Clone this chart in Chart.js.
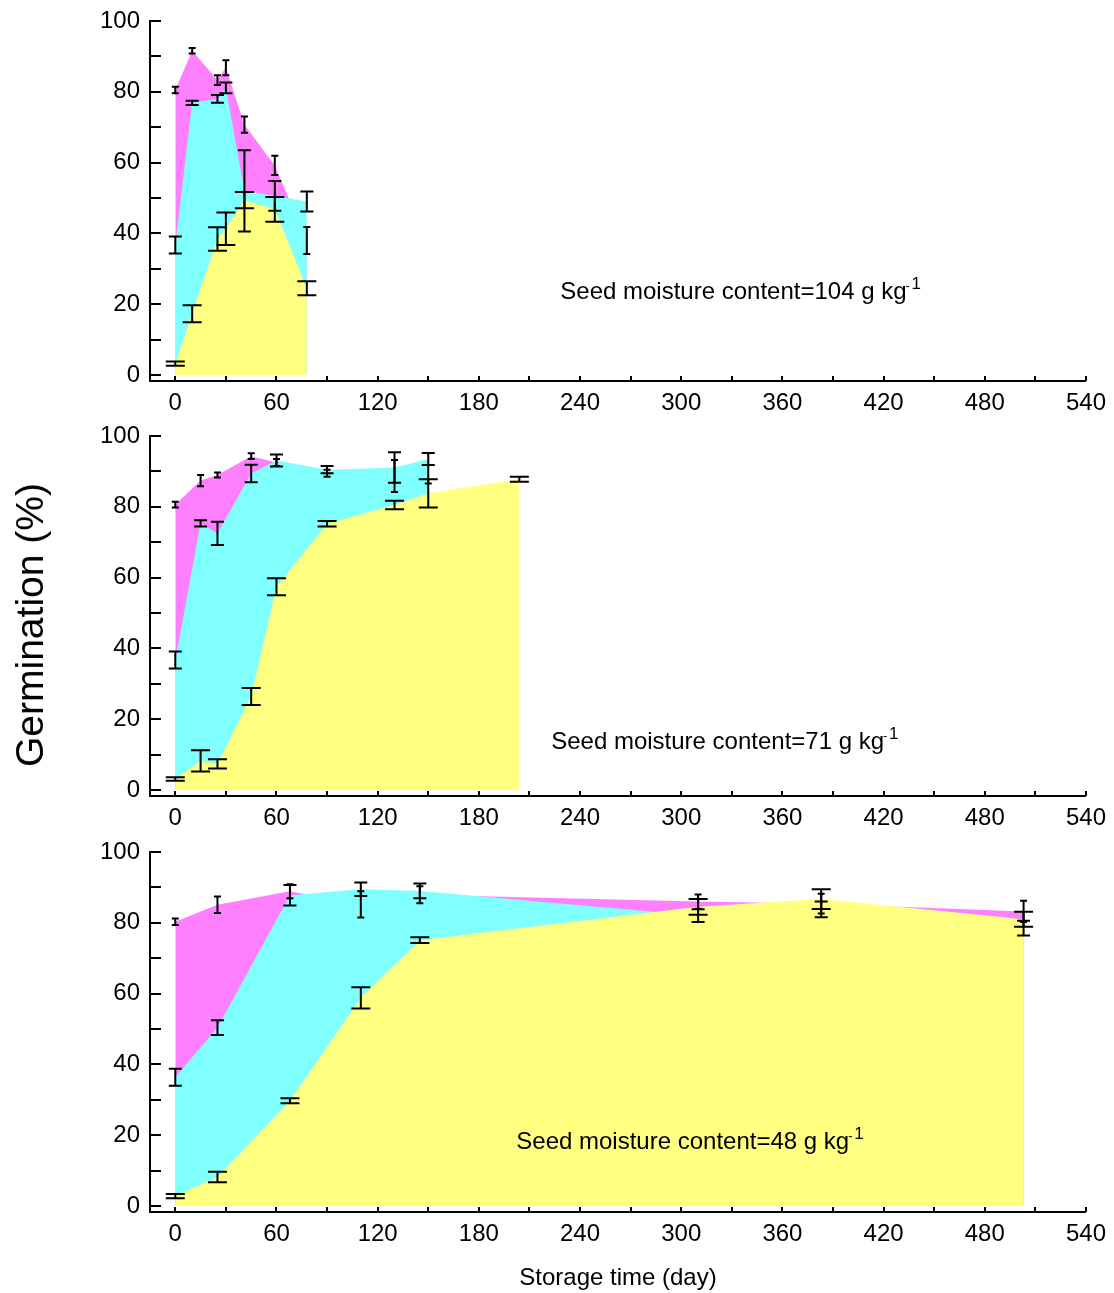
<!DOCTYPE html>
<html lang="en">
<head>
<meta charset="UTF-8">
<title>Germination vs storage time</title>
<script src="https://cdn.jsdelivr.net/npm/chart.js"></script>
<style>
    body {
        margin: 0;
        background: #fff;
        font-family: "Liberation Sans", Arial, sans-serif;
    }
    .wrap {
        position: relative;
        width: 1114px;
        height: 1293px;
    }
    canvas {
        position: absolute;
        left: 0;
    }
    #yTitle {
        position: absolute;
        left: 30px;
        top: 625px;
        transform: translate(-50%, -50%) rotate(-90deg);
        font-size: 39px;
        white-space: nowrap;
        color: #000;
    }
</style>
</head>
<body>
<div class="wrap">
    <canvas id="c104" width="1114" height="415" style="top:0"></canvas>
    <canvas id="c71" width="1114" height="415" style="top:415px"></canvas>
    <canvas id="c48" width="1114" height="462" style="top:831px"></canvas>
    <div id="yTitle">Germination (%)</div>
</div>
<script>
// axis ticks
const xTicks = [0, 60, 120, 180, 240, 300, 360, 420, 480, 540];
const yTicks = [0, 20, 40, 60, 80, 100];

// 104 g/kg
const days104 = [0, 10, 25, 30, 41, 59, 78];
const pink104 = [80.5, 91.6, 83.3, 86.8, 70.7, 59.2, 38.0];
const pinkErr104 = [0.9, 0.8, 1.4, 2.1, 2.3, 2.7, 3.8];
const cyan104 = [36.7, 76.9, 78.0, 81.1, 52.0, 50.6, 49.0];
const cyanErr104 = [2.4, 0.6, 1.1, 1.5, 11.5, 4.2, 2.8];
const yellow104 = [3.2, 17.3, 38.4, 41.3, 49.4, 46.8, 24.5];
const yellowErr104 = [0.6, 2.4, 3.3, 4.6, 2.3, 3.5, 2.0];

// 71 g/kg
const days71 = [0, 15, 25, 45, 60, 90, 130, 150];
const yellowDays71 = [0, 15, 25, 45, 60, 90, 130, 150, 204];
const pink71 = [80.6, 87.4, 89.0, 94.3, 92.5, 89.5, 88.7, 89.2];
const pinkErr71 = [0.8, 1.6, 0.7, 0.8, 1.0, 1.0, 4.5, 2.6];
const cyan71 = [36.7, 75.3, 72.5, 89.4, 93.1, 90.5, 91.1, 93.5];
const cyanErr71 = [2.4, 0.9, 3.3, 2.5, 1.7, 1.0, 4.3, 1.7];
const yellow71 = [3.1, 8.2, 7.4, 26.4, 57.4, 75.2, 80.5, 83.8, 87.8];
const yellowErr71 = [0.5, 3.0, 1.3, 2.4, 2.4, 0.8, 1.2, 4.0, 0.7];

// 48 g/kg
const days48 = [0, 25, 68, 110, 145, 310, 383, 503];
const pink48 = [80.3, 85.1, 88.9, 85.2, 87.9, 86.0, 85.4, 83.2];
const pinkErr48 = [0.9, 2.3, 2.0, 3.7, 2.4, 2.0, 2.8, 3.0];
const cyan48 = [36.4, 50.4, 87.8, 89.5, 89.0, 82.0, 83.8, 78.5];
const cyanErr48 = [2.4, 2.1, 2.9, 1.9, 2.1, 1.8, 2.2, 2.1];
const yellow48 = [2.8, 8.2, 29.7, 58.8, 75.1, 84.5, 86.7, 81.0];
const yellowErr48 = [0.6, 1.5, 0.7, 3.0, 0.8, 2.2, 2.8, 2.1];

const FONT = '"Liberation Sans", Arial, sans-serif';

function pts(days, vals) {
    return vals.map((v, i) => ({ x: days[i], y: v }));
}

function series(days, vals, errs, color, cap) {
    return {
        data: pts(days, vals),
        errs: errs,
        cap: cap,
        backgroundColor: color,
        borderColor: 'rgba(0,0,0,0)',
        borderWidth: 0,
        pointRadius: 0,
        tension: 0,
        fill: 'origin'
    };
}

// error bars, drawn through the y scale
const errorBars = {
    id: 'errorBars',
    afterDatasetsDraw(chart) {
        const ctx = chart.ctx;
        const yScale = chart.scales.y;
        ctx.save();
        ctx.strokeStyle = '#000';
        ctx.lineWidth = 2;
        chart.data.datasets.forEach((ds, di) => {
            const meta = chart.getDatasetMeta(di);
            meta.data.forEach((pt, i) => {
                const v = ds.data[i].y, e = ds.errs[i];
                const x = pt.x;
                const y1 = yScale.getPixelForValue(v + e);
                const y2 = yScale.getPixelForValue(v - e);
                ctx.beginPath();
                ctx.moveTo(x, y1); ctx.lineTo(x, y2);
                ctx.moveTo(x - ds.cap, y1); ctx.lineTo(x + ds.cap, y1);
                ctx.moveTo(x - ds.cap, y2); ctx.lineTo(x + ds.cap, y2);
                ctx.stroke();
            });
        });
        ctx.restore();
    }
};

// inward tick marks (minor every 10 % and 30 days)
const innerTicks = {
    id: 'innerTicks',
    afterDraw(chart) {
        const { ctx, chartArea, scales: { x, y } } = chart;
        ctx.save();
        ctx.strokeStyle = '#000';
        ctx.lineWidth = 2;
        ctx.beginPath();
        for (let v = 0; v <= 100; v += 10) {
            const py = Math.round(y.getPixelForValue(v));
            ctx.moveTo(chartArea.left, py);
            ctx.lineTo(chartArea.left + 11, py);
        }
        for (let d = 0; d <= 540; d += 30) {
            const px = Math.round(x.getPixelForValue(d));
            ctx.moveTo(px, chartArea.bottom);
            ctx.lineTo(px, chartArea.bottom - 5);
        }
        ctx.stroke();
        ctx.restore();
    }
};

const note = {
    id: 'note',
    afterDatasetsDraw(chart, args, opts) {
        if (!opts.text) return;
        const { ctx, scales: { x, y } } = chart;
        const px = x.getPixelForValue(opts.x);
        const py = y.getPixelForValue(opts.y);
        ctx.save();
        ctx.fillStyle = '#000';
        ctx.textAlign = 'left';
        ctx.textBaseline = 'alphabetic';
        ctx.font = '24px ' + FONT;
        ctx.fillText(opts.text, px, py);
        const w = ctx.measureText(opts.text).width;
        ctx.font = '13px ' + FONT;
        ctx.fillText('-', px + w - 1, py - 9);
        ctx.font = '17px ' + FONT;
        ctx.fillText('1', px + w + 5, py - 10);
        ctx.restore();
    }
};

function makePanel(id, datasets, noteOpts, bottomTitle) {
    const canvas = document.getElementById(id);
    const h = canvas.height;
    return new Chart(canvas, {
        type: 'line',
        data: { datasets: datasets },
        plugins: [errorBars, innerTicks, note],
        options: {
            responsive: false,
            animation: false,
            devicePixelRatio: 1,
            layout: { padding: { left: 0, right: 28, top: 21, bottom: 0 } },
            plugins: {
                legend: { display: false },
                tooltip: { enabled: false },
                note: noteOpts
            },
            scales: {
                x: {
                    type: 'linear',
                    min: -15,
                    max: 540,
                    grid: { display: false, drawTicks: false },
                    border: { display: true, color: '#000', width: 2 },
                    ticks: {
                        padding: 8,
                        color: '#000',
                        maxRotation: 0,
                        font: { family: FONT, size: 24 }
                    },
                    afterBuildTicks: s => { s.ticks = xTicks.map(v => ({ value: v })); },
                    afterFit: s => { s.height = h - 21 - 360; },
                    title: {
                        display: bottomTitle,
                        text: 'Storage time (day)',
                        color: '#000',
                        font: { family: FONT, size: 24 },
                        padding: { top: 0, bottom: 0 }
                    }
                },
                y: {
                    min: -1.7,
                    max: 100,
                    grid: { display: false, drawTicks: false },
                    border: { display: true, color: '#000', width: 2 },
                    ticks: {
                        padding: 10,
                        color: '#000',
                        font: { family: FONT, size: 24, lineHeight: 1 }
                    },
                    afterBuildTicks: s => { s.ticks = yTicks.map(v => ({ value: v })); },
                    afterFit: s => { s.width = 150; s.paddingTop = 0; }
                }
            }
        }
    });
}

const PINK = '#FF80FF', CYAN = '#80FFFF', YELLOW = '#FFFF80';

makePanel('c104', [
    series(days104, yellow104, yellowErr104, YELLOW, 9.5),
    series(days104, cyan104, cyanErr104, CYAN, 6.5),
    series(days104, pink104, pinkErr104, PINK, 3.5)
], { text: 'Seed moisture content=104 g kg', x: 228.3, y: 21.5 }, false);

makePanel('c71', [
    series(yellowDays71, yellow71, yellowErr71, YELLOW, 9.5),
    series(days71, cyan71, cyanErr71, CYAN, 6.5),
    series(days71, pink71, pinkErr71, PINK, 3.5)
], { text: 'Seed moisture content=71 g kg', x: 222.9, y: 11.6 }, false);

makePanel('c48', [
    series(days48, yellow48, yellowErr48, YELLOW, 9.5),
    series(days48, cyan48, cyanErr48, CYAN, 6.5),
    series(days48, pink48, pinkErr48, PINK, 3.5)
], { text: 'Seed moisture content=48 g kg', x: 202.2, y: 16.1 }, true);
</script>
</body>
</html>
